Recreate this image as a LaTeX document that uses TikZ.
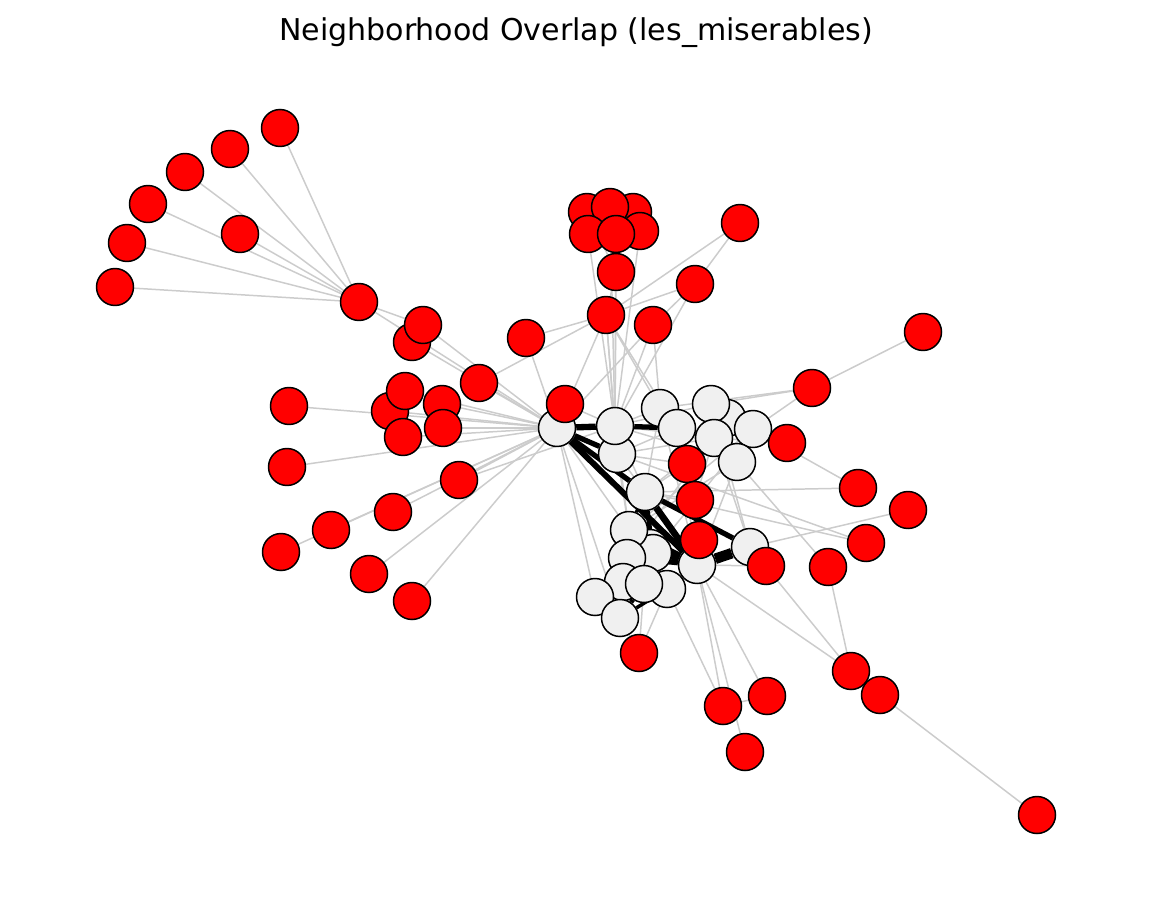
\documentclass[tikz,border=0pt]{standalone}
\usepackage{fontspec}
\setmainfont{DejaVu Sans}
\usetikzlibrary{backgrounds}

\begin{document}
\begin{tikzpicture}[
    x=0.02cm, y=-0.02cm,
    rednode/.style={circle, draw, line width=0.85pt, fill=red, minimum size=0.74cm, inner sep=0pt},
    greynode/.style={circle, draw, line width=0.85pt, fill=black!6, minimum size=0.74cm, inner sep=0pt},
    link/.style={draw=black!20, line width=0.85pt},
    tie/.style={draw=black, line width=#1},
    tie/.default=2pt
]
\useasboundingbox (0,0) rectangle (1152,905);

% Title
\node[font=\fontsize{17.1}{20}\selectfont] (title) at (576,33) {Neighborhood Overlap (les\_miserables)};

% Grey nodes (core)
\foreach \n/\x/\y in {w1/557/428, w3/617/454, w2/615/426, w4/660/408, w5/677/428,
    w7/727/418, w6/711/404, w9/753/429, w8/714/438, w10/737/462, w11/645/492,
    w13/650/548, w14/653/553, w12/629/530, w15/627/558, w17/750/547, w16/697/565,
    w19/667/589, w18/623/582, w20/644/584, w21/595/597, w22/620/618} {
    \node[greynode] (\n) at (\x,\y) {};
}

% Red nodes
\foreach \n/\x/\y in {a1/280/128, a2/230/149, a3/185/172, a4/148/204, a5/240/234,
    a6/127/243, a7/115/287, m/359/302, a8/412/342, a9/423/325, a10/526/338,
    a11/479/383, a12/390/411, a13/405/391, a14/442/404, a15/443/428, a16/403/437,
    a17/289/406, a18/287/467, a19/459/480, a20/393/512, a21/331/530, a22/281/552,
    a23/369/574, a24/412/601,
    t1/587/212, t3/633/212, t2/610/207, t4/588/234, t6/640/231, t5/616/234,
    t7/616/272, b1/606/315, b2/653/325, b3/695/284, b4/740/223, b5/923/332,
    b6/812/388, b7/787/443, c1/565/404, c2/687/464, c3/695/500, c4/699/540,
    c5/766/566, d1/858/488, d2/908/510, d3/866/543, d4/828/567,
    e1/639/653, e2/723/706, e3/767/696, e4/745/752, e5/851/671, e6/880/695,
    e7/1037/815} {
    \node[rednode] (\n) at (\x,\y) {};
}

\begin{scope}[on background layer]
% Light links
\foreach \u/\v in {m/a1, m/a2, m/a3, m/a4, m/a5, m/a6, m/a7, m/w1, m/a9,
    a8/w1, a9/w1, a10/w1, a10/b1, a11/w1, a11/b1, a12/w1, a13/w1, a14/w1,
    a15/w1, a16/w1, a17/w1, a18/w1, a19/w1, a19/w2, a20/w1, a21/w1, a22/w1,
    a23/w1, a24/w1,
    t1/t7, t4/w2, t5/w2, t6/w2, t2/w2, t7/w2, t7/b1,
    b1/w1, b1/w2, b1/w4, b1/w5, b1/b3, b1/b4, b1/w3,
    b2/w1, b2/w2, b2/b3, b2/w4, b3/b4, b3/w2,
    b5/b6, b6/w4, b6/w6, b6/w9, b7/w9, b7/w8,
    w9/d1, d1/w11, d2/w17, d3/w11, d3/w3, d4/w10, d4/e5,
    w16/e5, w17/e5, e5/e6, e6/e7,
    e2/w16, e2/w19, e3/w16, e2/e3, e4/w16,
    e1/w22, e1/w20, e1/w19,
    c1/w1, c1/w2, c2/w5, c2/w11, c3/w11, c4/w16, c5/w17, c5/w16, c3/w8,
    c2/w3, c4/w12,
    w2/w4, w2/w6, w2/w8, w3/w5, w3/w8, w3/w11, w4/w11, w5/w10, w6/w9,
    w8/w11, w9/w12, w10/w16, w3/w12, w2/w11, w1/w21, w1/w22, w1/w12,
    w4/w16, w6/w17, w8/w17, w10/w12, w9/w14, w7/w15, w2/w12, w5/w16, w2/w10} {
    \draw[link] (\u) -- (\v);
}

% Heavy links
\foreach \u/\v/\w in {w1/w2/3.6pt, w2/w5/3pt, w5/w8/2pt, w1/w3/3pt,
    w1/w11/3pt, w1/w16/3.4pt, w11/w16/3.8pt, w11/w17/3pt, w16/w17/6pt,
    w12/w16/3.8pt, w14/w16/3.8pt, w13/w16/3.8pt, w15/w16/2.6pt, w11/w14/2.6pt,
    w11/w12/2pt, w20/w22/2.6pt, w19/w22/2pt} {
    \draw[tie=\w] (\u) -- (\v);
}
\end{scope}

\end{tikzpicture}
\end{document}
